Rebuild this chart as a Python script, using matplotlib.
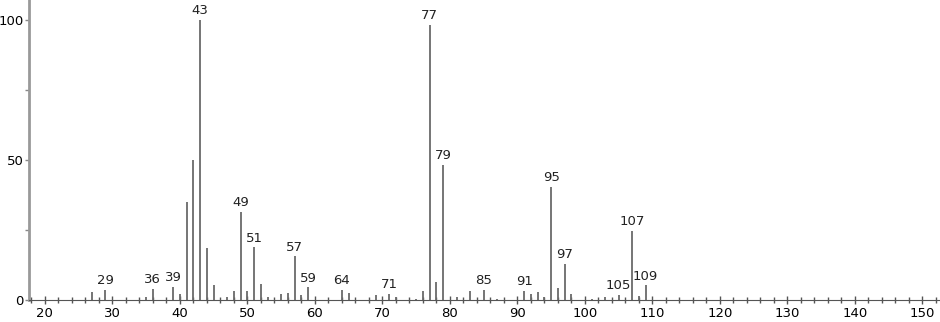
import matplotlib.pyplot as plt
from matplotlib.ticker import MultipleLocator

# m/z values and relative intensities
mz = [27, 29, 35, 36, 39, 40, 41, 42, 43, 44, 45, 47, 48, 49, 50, 51, 52, 53,
      55, 56, 57, 58, 59, 64, 65, 69, 71, 72, 75, 76, 77, 78, 79, 81, 83, 85,
      87, 91, 92, 93, 94, 95, 96, 97, 98, 101, 103, 105, 107, 108, 109]
intensity = [2.9, 3.6, 1.2, 4.1, 4.8, 2.1, 35.1, 50.0, 100.0, 18.6, 5.2, 1.0, 3.3,
             31.5, 3.3, 18.8, 5.7, 1.0, 2.1, 2.6, 15.6, 1.9, 4.5, 3.6, 2.6, 1.7,
             2.1, 1.0, 0.5, 3.3, 98.2, 6.4, 48.2, 1.0, 3.3, 3.6, 0.5, 3.3, 2.1,
             2.9, 1.0, 40.5, 4.3, 12.8, 2.1, 0.3, 1.0, 1.9, 24.6, 1.4, 5.2]

labelled = [29, 36, 39, 43, 49, 51, 57, 59, 64, 71, 77, 79, 85, 91, 95, 97,
            105, 107, 109]

fig = plt.figure(figsize=(9.4, 3.22), dpi=100)
ax = fig.add_axes([29 / 940, 22 / 322, 911 / 940, 300 / 322])

ax.vlines(mz, 0, intensity, color='#6a6a6a', linewidth=1.3)

for m, h in zip(mz, intensity):
    if m in labelled:
        ax.annotate(str(m), (m, h), xytext=(0, 2), textcoords='offset points',
                    ha='center', va='bottom', fontsize=9.5, color='#222222')

ax.set_xlim(17.67, 152.6)
ax.set_ylim(0, 107.1)

ax.xaxis.set_major_locator(MultipleLocator(10))
ax.xaxis.set_minor_locator(MultipleLocator(2))
ax.yaxis.set_major_locator(MultipleLocator(50))
ax.yaxis.set_minor_locator(MultipleLocator(25))

ax.tick_params(axis='x', which='major', direction='inout', length=6,
               width=1, color='#555555', labelsize=9.5, pad=2)
ax.tick_params(axis='x', which='minor', direction='inout', length=5,
               width=1, color='#555555')
ax.tick_params(axis='y', which='both', direction='out', length=3,
               width=1, color='#888888', labelsize=9.5, pad=1)

for side in ['top', 'right']:
    ax.spines[side].set_visible(False)
ax.spines['bottom'].set_color('#555555')
ax.spines['left'].set_color('#999999')
ax.spines['left'].set_linewidth(2)

fig.savefig('out.png', dpi=100)
